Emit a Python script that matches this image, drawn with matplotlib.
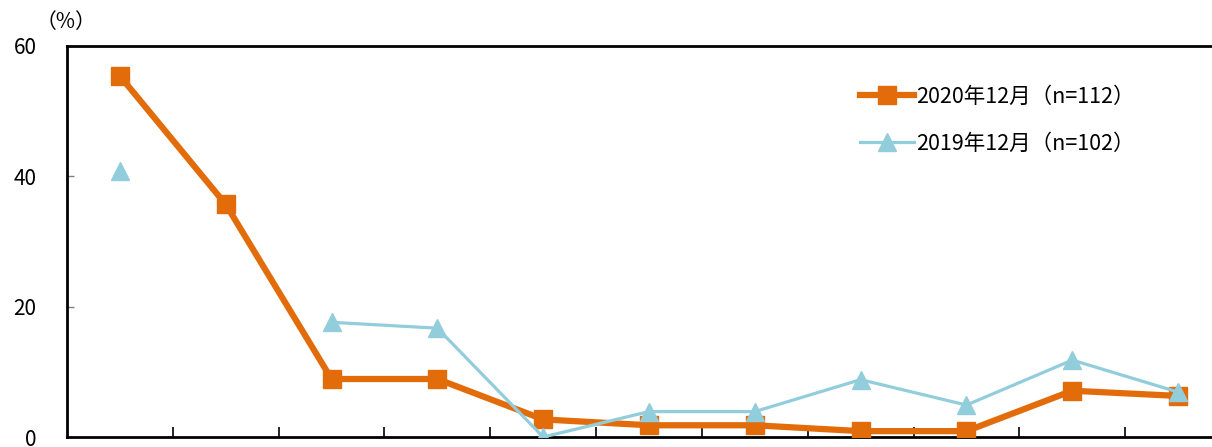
import matplotlib.pyplot as plt
import numpy as np

plt.rcParams['font.family'] = ['Noto Sans CJK JP', 'DejaVu Sans']

categories = list(range(11))
vals_2020 = [55.4, 35.7, 8.9, 8.9, 2.7, 1.8, 1.8, 0.9, 0.9, 7.1, 6.3]
vals_2019 = [40.8, np.nan, 17.6, 16.7, 0.0, 3.9, 3.9, 8.8, 4.9, 11.8, 6.9]
labels = ['2020年12月（n=112）', '2019年12月（n=102）']

orange = '#E36C0A'
blue = '#92CDDC'

fig = plt.figure(figsize=(12.12, 4.47), dpi=100)
ax = fig.add_axes([67 / 1212, 10 / 447, 1164 / 1212, 391 / 447])

ax.plot(categories, vals_2020, color=orange, lw=4.5, marker='s', ms=12.5,
        label=labels[0], zorder=3)
ax.plot(categories, vals_2019, color=blue, lw=2.3, marker='^', ms=13,
        label=labels[1], zorder=4)

ax.set_xlim(-0.5, 10.5)
ax.set_ylim(0, 60)
ax.set_yticks([0, 20, 40, 60])
ax.set_xticks(np.arange(0.5, 10.5, 1))
ax.set_xticklabels([])
ax.tick_params(axis='y', direction='in', length=5, width=1, color='gray',
               labelsize=15, pad=22)
ax.tick_params(axis='x', direction='in', length=7, width=1.2, color='black')

for s in ['left', 'top', 'bottom']:
    ax.spines[s].set_linewidth(2)
ax.spines['right'].set_visible(False)

fig.text(36 / 1212, 1 - 22 / 447, '（%）', fontsize=15, va='center', ha='left')

leg = ax.legend(loc='upper left', bbox_to_anchor=(0.665, 0.948), frameon=False,
                fontsize=15.5, handlelength=2.5, handletextpad=0.1,
                labelspacing=1.15)

fig.savefig('out.png', dpi=100)
